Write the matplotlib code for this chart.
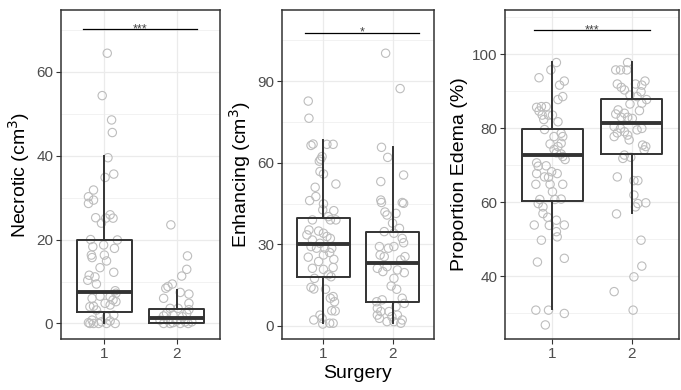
import matplotlib
matplotlib.use('Agg')
import matplotlib.pyplot as plt
import numpy as np

plt.rcParams['font.family'] = ['Liberation Sans', 'DejaVu Sans']

# ---- box statistics: [whisker low, Q1, median, Q3, whisker high]
necrotic_box = [[0.0, 2.8, 7.5, 20.0, 39.8], [0.0, 0.2, 1.2, 3.4, 8.0]]
enhancing_box = [[1.0, 18.0, 30.2, 39.6, 68.3], [1.2, 8.7, 23.2, 34.7, 65.7]]
edema_box = [[31.0, 60.2, 72.6, 79.8, 97.9], [57.1, 73.1, 81.4, 87.9, 97.9]]

# ---- jittered points: values and horizontal jitter offsets (group units)
nec1_val = [64.4, 54.3, 48.5, 45.5, 39.5, 35.6, 34.8, 31.8, 30.2, 29.4, 28.6, 25.2, 25.9, 25.1,
            25.1, 23.9, 20.0, 19.9, 18.7, 18.3, 17.9, 16.3, 15.7, 16.3, 14.9, 13.3, 12.2, 11.5,
            11.1, 10.3, 9.4, 7.8, 7.2, 6.4, 6.5, 6.0, 5.6, 5.2, 4.8, 4.4, 4.1, 4.0, 3.2, 2.0,
            2.0, 1.6, 0.8, 0.2, 0.0, 0.0, 0.0, 0.0, 0.4, 0.6, 0.0]
nec1_jit = [0.04, -0.03, 0.10, 0.11, 0.05, 0.13, 0.01, -0.15, -0.22, -0.15, -0.22, -0.12, 0.08, 0.12,
            0.02, -0.04, -0.19, 0.18, -0.01, -0.16, 0.14, -0.18, -0.17, 0.0, 0.03, -0.06, 0.13, -0.21,
            -0.13, -0.23, -0.11, 0.15, 0.16, 0.08, -0.06, -0.17, 0.12, 0.16, 0.01, 0.08, -0.15, -0.20,
            -0.11, -0.06, 0.13, 0.03, -0.17, -0.22, -0.15, -0.08, 0.03, 0.15, -0.04, 0.08, -0.20]
nec2_val = [23.5, 16.1, 12.9, 11.3, 9.4, 8.8, 8.4, 6.0, 7.0, 7.4, 4.8, 3.3, 3.6, 3.6, 2.4, 1.8,
            2.0, 1.6, 2.4, 0.8, 0.6, 0.4, 0.0, 0.0, 0.0, 0.0, 0.4, 0.8, 0.2]
nec2_jit = [-0.08, 0.15, 0.14, 0.07, -0.06, -0.12, -0.15, -0.18, 0.17, 0.05, 0.17, 0.17, -0.09, 0.02,
            -0.14, -0.18, -0.05, 0.08, 0.14, -0.12, 0.0, 0.12, -0.18, -0.09, 0.05, 0.16, 0.21, -0.23, -0.05]

enh1_val = [82.7, 76.4, 66.4, 66.9, 66.8, 66.8, 62.3, 61.3, 60.6, 56.8, 55.9, 52.2, 51.0, 47.6,
            46.1, 44.9, 42.7, 42.4, 40.2, 39.0, 39.0, 39.0, 35.3, 34.9, 34.1, 32.9, 32.2, 33.5,
            31.6, 30.4, 28.6, 28.6, 28.6, 29.2, 27.0, 26.1, 24.5, 25.3, 23.7, 21.2, 21.5, 20.8,
            18.8, 18.1, 17.5, 14.2, 13.6, 13.5, 10.8, 10.2, 8.9, 5.6, 5.5, 4.0, 2.8, 2.2, 0.7,
            1.0, 1.0]
enh1_jit = [-0.22, -0.21, -0.18, -0.15, 0.05, 0.14, -0.02, -0.04, -0.06, -0.05, 0.0, 0.18, -0.12, -0.11,
            -0.20, 0.0, -0.01, 0.15, 0.07, 0.10, -0.16, 0.18, -0.21, -0.07, 0.0, 0.05, 0.10, -0.24,
            -0.16, -0.05, 0.02, 0.12, -0.10, -0.18, 0.09, 0.0, 0.15, -0.22, -0.07, -0.16, 0.14, 0.0,
            0.07, 0.11, -0.13, -0.18, -0.14, 0.03, 0.14, 0.10, 0.16, 0.12, 0.17, -0.05, -0.02, -0.14,
            -0.01, 0.09, 0.14]
enh2_val = [100.3, 87.3, 65.7, 62.0, 55.5, 53.1, 46.3, 45.4, 45.4, 45.1, 41.9, 40.8, 41.4, 37.8,
            34.7, 34.1, 35.9, 32.2, 30.6, 29.2, 28.6, 29.2, 26.1, 25.5, 25.5, 24.3, 21.2, 20.0,
            21.8, 20.6, 19.6, 17.5, 14.7, 13.5, 9.6, 10.2, 8.3, 8.9, 7.1, 6.5, 5.3, 5.3, 4.0,
            2.8, 3.4, 4.0, 1.6, 2.2, 1.0, 1.6]
enh2_jit = [-0.10, 0.11, -0.16, -0.07, 0.16, -0.17, -0.17, -0.16, 0.14, 0.16, -0.11, -0.08, 0.05, 0.0,
            -0.12, 0.02, 0.10, 0.14, 0.16, -0.19, -0.06, 0.02, -0.18, -0.12, 0.18, 0.12, -0.22, -0.14,
            -0.08, 0.07, 0.17, 0.02, -0.02, 0.06, -0.15, 0.14, 0.17, -0.23, 0.05, -0.22, -0.17, -0.05,
            -0.22, -0.19, -0.01, 0.07, -0.08, 0.14, 0.12, 0.02]

ede1_val = [97.7, 95.7, 93.6, 92.7, 91.6, 88.5, 87.7, 85.6, 85.8, 85.8, 84.6, 83.5, 83.5, 83.5,
            82.3, 81.7, 79.6, 78.6, 77.7, 77.7, 75.7, 75.9, 75.0, 74.2, 73.3, 73.0, 71.5, 72.3,
            70.6, 69.8, 69.7, 67.7, 68.2, 66.8, 66.7, 67.7, 64.8, 64.8, 64.8, 62.8, 60.7, 60.7,
            60.8, 59.6, 58.7, 56.9, 55.9, 53.8, 53.7, 55.1, 53.8, 52.0, 50.6, 49.7, 44.8, 43.8,
            30.8, 30.8, 29.9, 26.8]
ede1_jit = [0.05, -0.02, -0.17, 0.15, 0.09, 0.13, 0.07, -0.20, -0.14, -0.08, -0.17, -0.13, -0.05, 0.0,
            -0.11, 0.07, -0.10, 0.11, 0.13, 0.02, -0.03, 0.11, 0.07, 0.02, 0.05, 0.11, 0.16, 0.13,
            -0.20, -0.08, -0.18, -0.20, -0.01, -0.10, -0.05, 0.06, 0.13, -0.03, -0.21, 0.0, -0.16, 0.03,
            0.11, -0.18, -0.12, -0.12, -0.06, -0.23, -0.04, 0.05, 0.15, 0.05, 0.06, -0.14, 0.15, -0.19,
            -0.21, -0.05, 0.15, -0.09]
ede2_val = [97.7, 95.7, 95.7, 95.7, 92.7, 91.9, 91.0, 91.9, 91.6, 90.3, 89.8, 88.9, 88.5, 87.7,
            86.7, 86.5, 84.9, 83.8, 84.0, 84.7, 82.9, 82.9, 82.6, 80.4, 79.9, 79.9, 79.5, 78.7,
            79.0, 78.1, 77.7, 76.8, 75.4, 75.0, 74.1, 72.7, 72.1, 71.8, 66.8, 65.8, 65.8, 61.9,
            59.6, 58.7, 59.8, 56.8, 49.7, 42.7, 39.8, 35.8, 30.8]
ede2_jit = [-0.05, -0.20, -0.14, -0.06, 0.17, -0.18, -0.13, 0.05, 0.13, -0.09, 0.12, -0.02, 0.07, 0.19,
            0.13, -0.02, -0.17, -0.20, -0.09, 0.10, -0.13, -0.05, 0.01, -0.22, 0.13, -0.14, 0.07, -0.18,
            -0.09, -0.05, -0.22, -0.03, 0.14, 0.18, 0.16, -0.09, -0.01, -0.11, -0.18, 0.03, 0.08, 0.03,
            0.08, 0.05, 0.18, -0.19, 0.12, 0.13, 0.03, -0.22, 0.02]

groups = ['1', '2']
ylabels = ['Necrotic (cm$^3$)', 'Enhancing (cm$^3$)', 'Proportion Edema (%)']
signif = ['***', '*', '***']
signif_y = [70.1, 107.9, 106.4]
signif_x = [(0.70, 2.28), (0.73, 2.38), (0.77, 2.23)]
ylims = [(-3.7, 74.7), (-4.8, 116.2), (23.0, 111.9)]
major_ticks = [[0, 20, 40, 60], [0, 30, 60, 90], [40, 60, 80, 100]]
minor_ticks = [[10, 30, 50, 70], [15, 45, 75, 105], [30, 50, 70, 90, 110]]

boxes = [necrotic_box, enhancing_box, edema_box]
points = [[(nec1_val, nec1_jit), (nec2_val, nec2_jit)],
          [(enh1_val, enh1_jit), (enh2_val, enh2_jit)],
          [(ede1_val, ede1_jit), (ede2_val, ede2_jit)]]

# axes rectangles in figure fraction
W, H = 681, 390
rects = [(61, 220), (282, 434), (505, 679)]
top_px, bot_px = 10, 339

fig = plt.figure(figsize=(W / 100, H / 100), dpi=100)
dark = '#333333'

for i in range(3):
    l, r = rects[i]
    ax = fig.add_axes([l / W, (H - bot_px) / H, (r - l) / W, (bot_px - top_px) / H])
    ax.set_xlim(0.4, 2.6)
    ax.set_ylim(*ylims[i])

    # grid
    for y in major_ticks[i]:
        ax.axhline(y, color='#EBEBEB', lw=0.9, zorder=0)
    for y in minor_ticks[i]:
        ax.axhline(y, color='#EBEBEB', lw=0.45, zorder=0)
    for x in [1, 2]:
        ax.axvline(x, color='#EBEBEB', lw=0.9, zorder=0)

    # jittered points
    for g, (vals, jit) in enumerate(points[i]):
        xs = g + 1 + np.array(jit)
        ax.scatter(xs, vals, s=36, facecolors='none', edgecolors='#BDBDBD',
                   linewidths=0.8, zorder=2)

    # boxplots from statistics
    stats = []
    for b in boxes[i]:
        stats.append(dict(whislo=b[0], q1=b[1], med=b[2], q3=b[3], whishi=b[4], fliers=[]))
    ax.bxp(stats, positions=[1, 2], widths=0.77, showfliers=False, showcaps=False,
           boxprops=dict(color=dark, lw=1.4),
           whiskerprops=dict(color=dark, lw=1.4),
           medianprops=dict(color=dark, lw=2.8, solid_capstyle='butt'),
           manage_ticks=False, zorder=3)

    # significance bar
    x0, x1 = signif_x[i]
    ax.plot([x0, x1], [signif_y[i], signif_y[i]], color='black', lw=0.9, zorder=4)
    ax.annotate(signif[i], ((x0 + x1) / 2, signif_y[i]), xytext=(0, -2),
                textcoords='offset points', ha='center', va='baseline',
                fontsize=9, color='#444444')

    ax.set_xticks([1, 2])
    ax.set_xticklabels(groups)
    ax.set_yticks(major_ticks[i])
    ax.tick_params(colors=dark, labelcolor='#4D4D4D', labelsize=11, length=3.5,
                   width=0.8, pad=2)
    for sp in ax.spines.values():
        sp.set_color(dark)
        sp.set_linewidth(1.1)
    ax.set_ylabel(ylabels[i], fontsize=14, labelpad=3)
    if i == 1:
        ax.set_xlabel('Surgery', fontsize=14, labelpad=3)

fig.savefig('out.png', dpi=100)
